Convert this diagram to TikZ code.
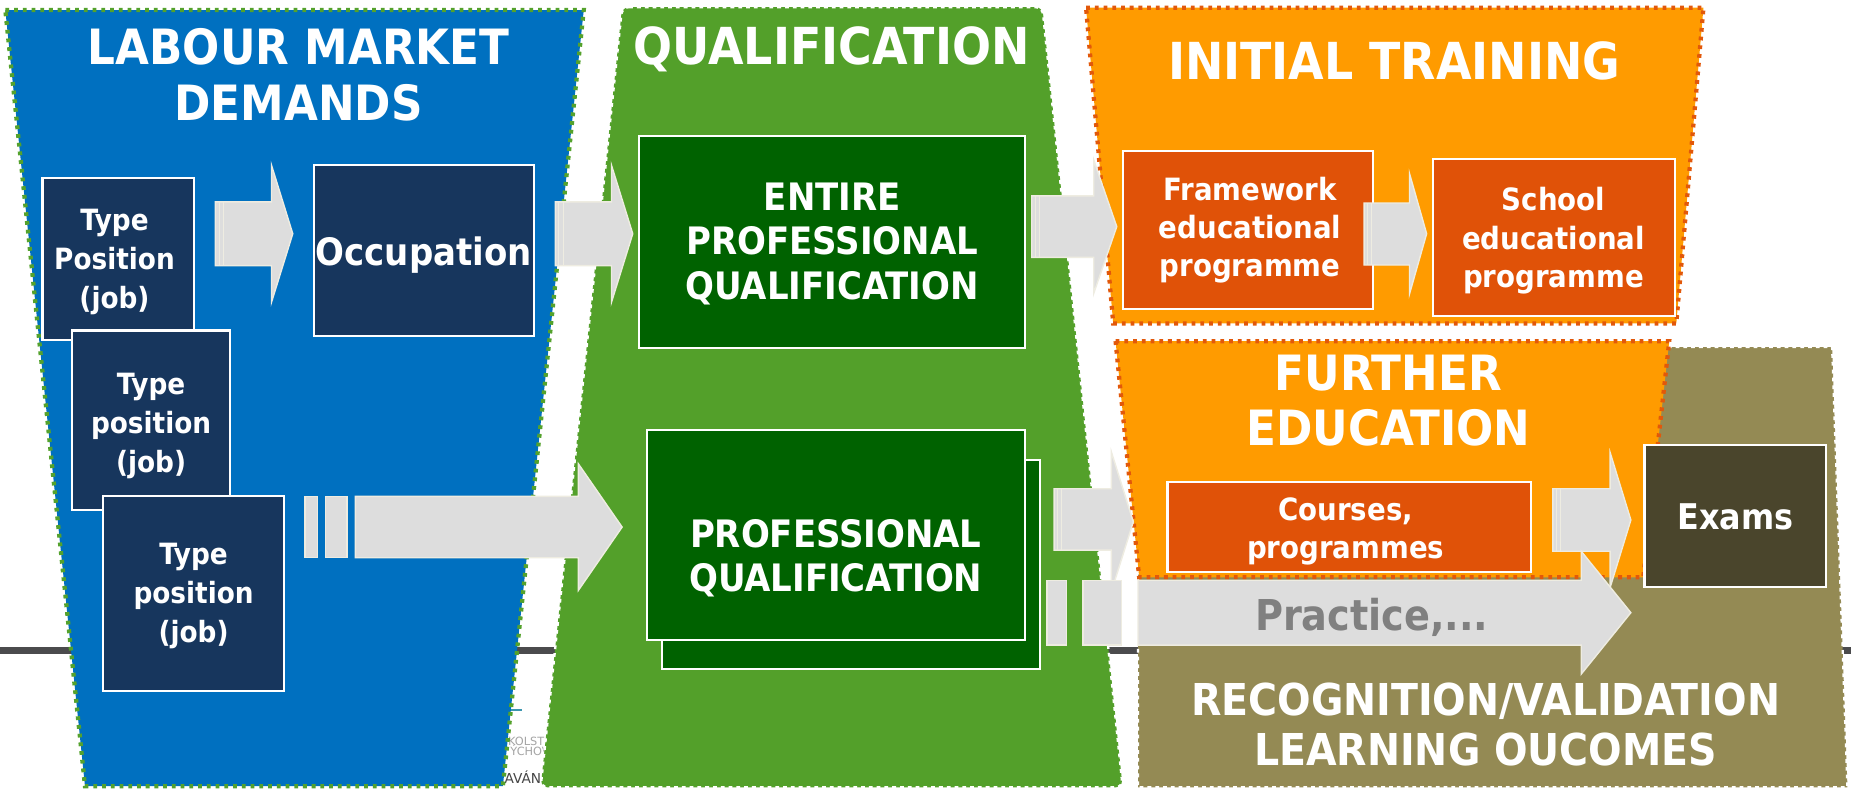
\documentclass[tikz,border=0pt]{standalone}
\usepackage{fontspec}
\IfFontExistsTF{DejaVu Sans Condensed}
  {\setmainfont{DejaVu Sans Condensed}[BoldFont={DejaVu Sans Condensed Bold}]}
  {\setmainfont{DejaVu Sans}[FakeStretch=0.9]}
\newfontfamily\logofont{DejaVu Sans}

\definecolor{lmblue}{RGB}{0,112,192}
\definecolor{lmdots}{RGB}{84,162,44}
\definecolor{jobnavy}{RGB}{23,54,93}
\definecolor{qgreen}{RGB}{83,160,42}
\definecolor{qualdark}{RGB}{0,98,0}
\definecolor{trorange}{RGB}{255,155,0}
\definecolor{trdots}{RGB}{226,88,10}
\definecolor{progred}{RGB}{224,82,8}
\definecolor{rvolive}{RGB}{148,138,84}
\definecolor{examdark}{RGB}{74,69,44}
\definecolor{arrgrey}{RGB}{221,221,221}
\definecolor{arrline}{RGB}{238,236,225}
\definecolor{practgrey}{RGB}{128,128,128}
\definecolor{darkrule}{RGB}{75,75,77}
\definecolor{logogrey}{RGB}{165,165,165}
\definecolor{logodark}{RGB}{70,70,70}
\definecolor{logoteal}{RGB}{60,150,175}

\begin{document}
\begin{tikzpicture}[x=0.5pt,y=0.5pt,yscale=-1,xscale=1,
  lmzone/.style={draw=lmdots,line width=1.8pt,dash pattern=on 1.6pt off 2.1pt,fill=lmblue},
  qzone/.style={draw=white,line width=1pt,dash pattern=on 1.6pt off 1.7pt,fill=qgreen,rounded corners=3pt},
  trzone/.style={draw=trdots,line width=1.8pt,dash pattern=on 1.6pt off 2.1pt,fill=trorange},
  rvzone/.style={draw=white,line width=1pt,dash pattern=on 1.6pt off 1.7pt,fill=rvolive},
  navybox/.style={draw=white,line width=0.9pt,fill=jobnavy},
  qualbox/.style={draw=white,line width=0.9pt,fill=qualdark},
  progbox/.style={draw=white,line width=0.9pt,fill=progred},
  exambox/.style={draw=white,line width=0.9pt,fill=examdark},
  blockarr/.style={fill=arrgrey,draw=arrline,line width=0.6pt,line join=miter},
  tailline/.style={draw=arrline,line width=0.4pt},
  zonetitle/.style={text=white,font=\fontsize{20.6}{23.5}\selectfont\bfseries,align=center,inner sep=0pt},
  widetitle/.style={zonetitle,font=\fontsize{21.6}{24}\selectfont\bfseries},
  rvtitle/.style={text=white,font=\fontsize{18.6}{21}\selectfont\bfseries,align=center,inner sep=0pt},
  jobtext/.style={text=white,font=\fontsize{12.4}{16.5}\selectfont\bfseries,align=center,inner sep=0pt},
  occtext/.style={text=white,font=\fontsize{16}{19}\selectfont\bfseries,align=center,inner sep=0pt},
  qualtext/.style={text=white,font=\fontsize{16}{18.8}\selectfont\bfseries,align=center,inner sep=0pt},
  progtext/.style={text=white,font=\fontsize{13}{16.2}\selectfont\bfseries,align=center,inner sep=0pt},
  examtext/.style={text=white,font=\fontsize{15}{18}\selectfont\bfseries,align=center,inner sep=0pt},
  practext/.style={text=practgrey,font=\fontsize{18}{21}\selectfont\bfseries,inner sep=0pt},
  logotext/.style={text=logogrey,font=\logofont\fontsize{4.8}{5}\selectfont,inner sep=0pt,anchor=base west}]
\useasboundingbox (0,0) rectangle (1568,673);
\fill [white] (0,0) rectangle (1568,673);

%Straight Lines
\draw [darkrule,line width=2.75pt] (0,551) -- (1568,551) ;
\draw [logoteal,line width=0.5pt] (432,601.5) -- (442,601.5) ;

% Text Node
\draw (430,631.5) node (logoa) [logotext] {KOLST};
% Text Node
\draw (432,640) node (logob) [logotext] {ÝCHOV};
% Text Node
\draw (427,663.6) node (logoc) [logotext,text=logodark,font=\logofont\fontsize{5.8}{6}\selectfont] {AVÁN};

%Shape: Trapezoid
\draw [lmzone] (4.5,8.5) -- (494.5,8.5) -- (426,666) -- (72,666) -- cycle ;
%Shape: Trapezoid
\draw [qzone] (527,6) -- (883,6) -- (951,667) -- (458,667) -- cycle ;
%Shape: Trapezoid
\draw [trzone] (920,6.5) -- (1443,6.5) -- (1420,274) -- (943,274) -- cycle ;
%Shape: Trapezoid
\draw [rvzone] (964,294) -- (1552,294) -- (1565,667) -- (964,667) -- cycle ;
%Shape: Trapezoid
\draw [trzone] (945,289) -- (1414,289) -- (1392,489) -- (965,489) -- cycle ;

%Shape: Rectangle
\draw [navybox] (36,151) rectangle (164,288) ;
%Shape: Rectangle
\draw [navybox] (61,280) rectangle (195,432) ;
%Shape: Rectangle
\draw [navybox] (87,420) rectangle (240.5,585) ;
%Shape: Rectangle
\draw [navybox] (266,140) rectangle (452,285) ;
%Shape: Rectangle
\draw [qualbox] (541,115) rectangle (868,295) ;
%Shape: Rectangle
\draw [qualbox] (560.5,390) rectangle (881,567) ;
%Shape: Rectangle
\draw [qualbox] (548,364.5) rectangle (868.5,542) ;
%Shape: Rectangle
\draw [progbox] (951,128) rectangle (1163,262) ;
%Shape: Rectangle
\draw [progbox] (1214,134.5) rectangle (1419,268) ;
%Shape: Rectangle
\draw [progbox] (989,408.5) rectangle (1297,484.5) ;
%Shape: Rectangle
\draw [exambox] (1393,377) rectangle (1547,497) ;

%Shape: Right Arrow
\draw [blockarr] (182.5,171) -- (230,171) -- (230,140) -- (248,198) -- (230,256) -- (230,225) -- (182.5,225) -- cycle ;
%Shape: Right Arrow
\draw [blockarr] (470.5,171) -- (518,171) -- (518,140) -- (536,198) -- (518,256) -- (518,225) -- (470.5,225) -- cycle ;
%Shape: Right Arrow
\draw [blockarr] (874,166) -- (926.5,166) -- (926.5,135.5) -- (946,192) -- (926.5,248.5) -- (926.5,218) -- (874,218) -- cycle ;
%Shape: Right Arrow
\draw [blockarr] (1155.5,172) -- (1194,172) -- (1194,147) -- (1208.5,198) -- (1194,249) -- (1194,224.5) -- (1155.5,224.5) -- cycle ;
%Shape: Right Arrow
\draw [blockarr] (893,414) -- (941.5,414) -- (941.5,383) -- (960,442) -- (941.5,501) -- (941.5,466) -- (893,466) -- cycle ;
%Shape: Right Arrow
\draw [blockarr] (1315.5,414) -- (1364,414) -- (1364,383.5) -- (1381.5,440.5) -- (1364,497.5) -- (1364,467) -- (1315.5,467) -- cycle ;
\foreach \tx/\ta/\tb in {182.5/171/225,470.5/171/225,874/166/218,1155.5/172/224.5,893/414/466,1315.5/414/467}
  {\draw [tailline] (\tx+3,\ta) -- (\tx+3,\tb) (\tx+6.5,\ta) -- (\tx+6.5,\tb) ;}

%Shape: Striped Right Arrow
\draw [blockarr] (258.5,420.5) rectangle (269,472.5) ;
\draw [blockarr] (275.5,420.5) rectangle (294,472.5) ;
\draw [blockarr] (301,420.5) -- (490,420.5) -- (490,393) -- (527,446.5) -- (490,500) -- (490,472.5) -- (301,472.5) -- cycle ;
%Shape: Striped Right Arrow
\draw [blockarr] (887,491.5) rectangle (903.5,546.5) ;
\draw [blockarr] (917.5,491.5) rectangle (950,546.5) ;
\draw [blockarr] (964,491.5) -- (1339.5,491.5) -- (1339.5,467) -- (1381.5,519) -- (1339.5,571) -- (1339.5,546.5) -- (964,546.5) -- cycle ;

% Text Node
\draw (253,63.5) node (lmtitle) [zonetitle] {LABOUR MARKET\\DEMANDS};
% Text Node
\draw (704.5,55) node (qtitle) [widetitle,anchor=base] {QUALIFICATION};
% Text Node
\draw (1181,67) node (ittitle) [widetitle,anchor=base] {INITIAL TRAINING};
% Text Node
\draw (1176,339.5) node (fetitle) [zonetitle] {FURTHER\\EDUCATION};
% Text Node
\draw (1258.5,613.5) node (rvtitle) [rvtitle] {RECOGNITION/VALIDATION\\LEARNING OUCOMES};

% Text Node
\draw (97,222) node (job1) [jobtext] {Type\\Position\\(job)};
% Text Node
\draw (128,361) node (job2) [jobtext] {Type\\position\\(job)};
% Text Node
\draw (164,505) node (job3) [jobtext] {Type\\position\\(job)};
% Text Node
\draw (359,216) node (occ) [occtext] {Occupation};
% Text Node
\draw (705,206.5) node (epq) [qualtext] {ENTIRE\\PROFESSIONAL\\QUALIFICATION};
% Text Node
\draw (708,473) node (pq) [qualtext] {PROFESSIONAL\\QUALIFICATION};
% Text Node
\draw (1059,195) node (fwp) [progtext] {Framework\\educational\\programme};
% Text Node
\draw (1316,204) node (sep) [progtext] {School\\educational\\programme};
% Text Node
\draw (1140,450) node (crs) [progtext] {Courses,\\programmes};
% Text Node
\draw (1470,438) node (exm) [examtext] {Exams};
% Text Node
\draw (1162,534) node (prc) [practext,anchor=base] {Practice,...};
\end{tikzpicture}
\end{document}
